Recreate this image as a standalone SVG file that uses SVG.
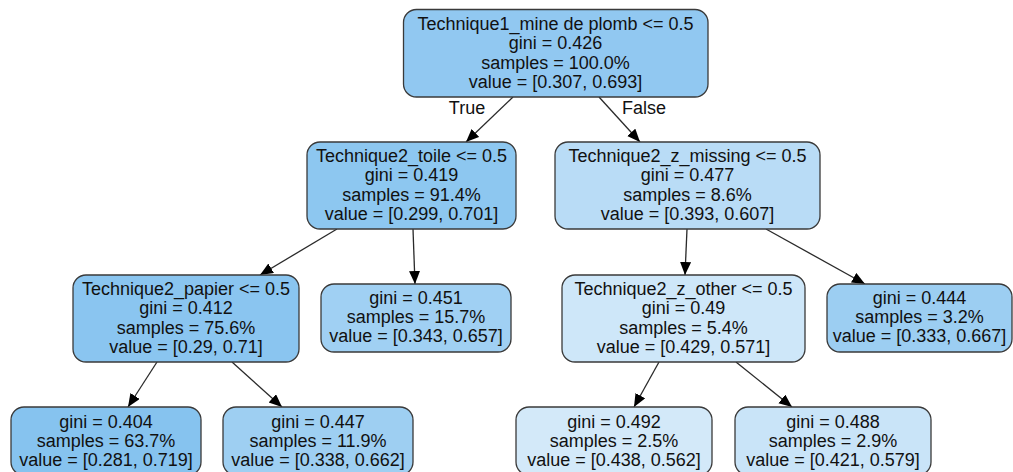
<svg xmlns="http://www.w3.org/2000/svg" width="1013" height="472" viewBox="0 0 1013 472">
<style>
.n{stroke:#3a3a3a;stroke-width:1.3}
text{font-family:"Liberation Sans",Arial,sans-serif;font-size:18px;fill:#111;text-anchor:middle}
.e{stroke:#2a2a2a;stroke-width:1.3;fill:none;marker-end:url(#ah)}
</style>
<defs>
<marker id="ah" markerUnits="userSpaceOnUse" markerWidth="14" markerHeight="12" refX="13" refY="5.5" orient="auto">
<path d="M0,0 L13,5.5 L0,11 Z" fill="#000"/>
</marker>
</defs>
<rect width="1013" height="472" fill="#fff"/>
<g id="connectors">
<path class="e" d="M513,97 L466,142"/>
<path class="e" d="M599,97 L640,142"/>
<path class="e" d="M337,229 L260,275"/>
<path class="e" d="M413,229 L415,284"/>
<path class="e" d="M157,362 L128,407"/>
<path class="e" d="M232,362 L282,407"/>
<path class="e" d="M687,229 L685,275"/>
<path class="e" d="M766,229 L865,284"/>
<path class="e" d="M659,362 L634,407"/>
<path class="e" d="M736,362 L792,407"/>
<text x="467" y="114">True</text>
<text x="644" y="114">False</text>
</g>
<g id="n0">
<rect class="n" x="403.5" y="9.5" width="304.5" height="87.5" rx="13" fill="#91c8f1"/>
<text x="555.5" y="30">Technique1_mine de plomb &lt;= 0.5</text>
<text x="555.5" y="49">gini = 0.426</text>
<text x="555.5" y="68.5">samples = 100.0%</text>
<text x="555.5" y="87.5">value = [0.307, 0.693]</text>
</g>
<g id="n1">
<rect class="n" x="307" y="142" width="209" height="87" rx="13" fill="#8dc7f0"/>
<text x="411.5" y="162">Technique2_toile &lt;= 0.5</text>
<text x="411.5" y="181">gini = 0.419</text>
<text x="411.5" y="200.5">samples = 91.4%</text>
<text x="411.5" y="219.5">value = [0.299, 0.701]</text>
</g>
<g id="n2">
<rect class="n" x="555" y="142" width="265" height="87" rx="13" fill="#b9dcf6"/>
<text x="687.5" y="162">Technique2_z_missing &lt;= 0.5</text>
<text x="687.5" y="181">gini = 0.477</text>
<text x="687.5" y="200.5">samples = 8.6%</text>
<text x="687.5" y="219.5">value = [0.393, 0.607]</text>
</g>
<g id="n3">
<rect class="n" x="73" y="275" width="226" height="87" rx="13" fill="#8ac5f0"/>
<text x="186" y="295">Technique2_papier &lt;= 0.5</text>
<text x="186" y="314">gini = 0.412</text>
<text x="186" y="333.5">samples = 75.6%</text>
<text x="186" y="352.5">value = [0.29, 0.71]</text>
</g>
<g id="n4">
<rect class="n" x="321" y="284" width="190" height="68" rx="13" fill="#a0d0f3"/>
<text x="416" y="303.5">gini = 0.451</text>
<text x="416" y="322.5">samples = 15.7%</text>
<text x="416" y="341.5">value = [0.343, 0.657]</text>
</g>
<g id="n5">
<rect class="n" x="562" y="275" width="243" height="87" rx="13" fill="#cee7f9"/>
<text x="683.5" y="295">Technique2_z_other &lt;= 0.5</text>
<text x="683.5" y="314">gini = 0.49</text>
<text x="683.5" y="333.5">samples = 5.4%</text>
<text x="683.5" y="352.5">value = [0.429, 0.571]</text>
</g>
<g id="n6">
<rect class="n" x="827" y="284" width="185" height="68" rx="13" fill="#9ccef2"/>
<text x="919.5" y="303.5">gini = 0.444</text>
<text x="919.5" y="322.5">samples = 3.2%</text>
<text x="919.5" y="341.5">value = [0.333, 0.667]</text>
</g>
<g id="n7">
<rect class="n" x="11" y="407" width="190" height="68" rx="13" fill="#86c3ef"/>
<text x="106" y="427.5">gini = 0.404</text>
<text x="106" y="446.5">samples = 63.7%</text>
<text x="106" y="465.5">value = [0.281, 0.719]</text>
</g>
<g id="n8">
<rect class="n" x="223" y="407" width="190" height="68" rx="13" fill="#9ecff2"/>
<text x="318" y="427.5">gini = 0.447</text>
<text x="318" y="446.5">samples = 11.9%</text>
<text x="318" y="465.5">value = [0.338, 0.662]</text>
</g>
<g id="n9">
<rect class="n" x="516" y="407" width="196" height="68" rx="13" fill="#d3e9f9"/>
<text x="614" y="427.5">gini = 0.492</text>
<text x="614" y="446.5">samples = 2.5%</text>
<text x="614" y="465.5">value = [0.438, 0.562]</text>
</g>
<g id="n10">
<rect class="n" x="735" y="407" width="196" height="68" rx="13" fill="#c9e4f8"/>
<text x="833" y="427.5">gini = 0.488</text>
<text x="833" y="446.5">samples = 2.9%</text>
<text x="833" y="465.5">value = [0.421, 0.579]</text>
</g>
</svg>
